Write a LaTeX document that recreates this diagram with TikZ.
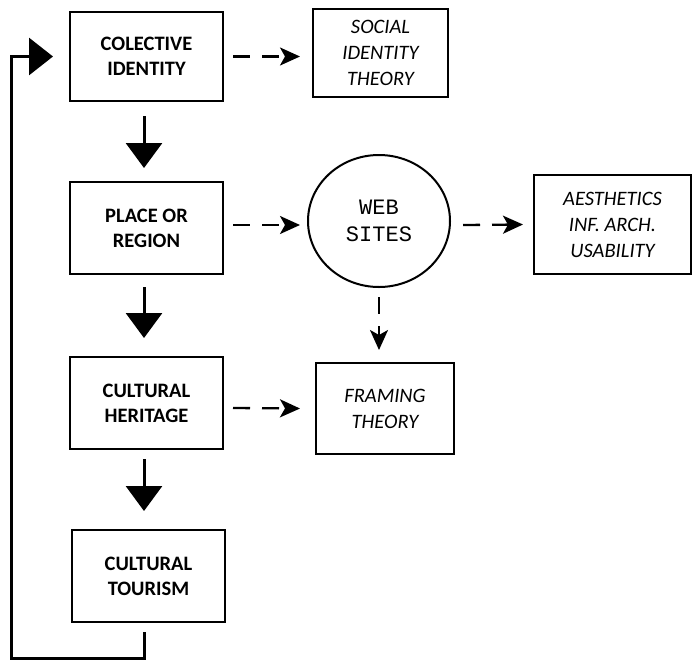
\documentclass[tikz,border=0pt]{standalone}
\usepackage{fontspec}
\setmainfont{Carlito}
\newfontfamily\monofont{Liberation Mono}
\usetikzlibrary{arrows.meta,shapes.geometric}
\begin{document}
\begin{tikzpicture}[x=1pt,y=-1pt,
 mainbox/.style={draw,line width=2.8pt,outer sep=0pt,minimum width=153pt,minimum height=90pt,align=center,font=\fontsize{20.5}{25}\selectfont\bfseries,inner sep=0pt},
 sidebox/.style={draw,line width=2.5pt,outer sep=0pt,align=center,font=\fontsize{20.5}{26}\selectfont\itshape,inner sep=0pt},
 solidarrow/.style={line width=3pt,-{Triangle[length=25pt,width=36pt]}},
 dasharrow/.style={line width=2.3pt,dash pattern=on 17pt off 12pt,-{Stealth[length=20pt,width=18pt,inset=5pt]}}]
\useasboundingbox (0,0) rectangle (693,659);
\node[mainbox,minimum height=89pt] (ci) at (146.5,56.5) {COLECTIVE\\IDENTITY};
\node[sidebox,minimum width=135pt,minimum height=88pt] (sit) at (380.5,53) {SOCIAL\\IDENTITY\\THEORY};
\node[mainbox,minimum height=92pt] (por) at (146.5,228) {PLACE OR\\REGION};
\node[draw,ellipse,line width=2pt,outer sep=0pt,minimum width=142pt,minimum height=132pt,inner sep=0pt,align=center,font=\monofont\fontsize{22}{27}\selectfont] (web) at (379,221) {WEB\\SITES};
\node[sidebox,minimum width=157pt,minimum height=99pt] (aes) at (612.5,224.5) {AESTHETICS\\INF. ARCH.\\USABILITY};
\node[mainbox,minimum height=92pt] (ch) at (146.5,403) {CULTURAL\\HERITAGE};
\node[sidebox,minimum width=138pt,minimum height=91pt] (ft) at (385,408.5) {FRAMING\\THEORY};
\node[mainbox,minimum height=92pt] (ct) at (148.5,576) {CULTURAL\\TOURISM};
% solid arrows
\draw[solidarrow] ([xshift=-2.5pt,yshift=-15pt]ci.south) -- ([xshift=-2.5pt,yshift=14pt]por.north);
\draw[solidarrow] ([xshift=-2.5pt,yshift=-13pt]por.south) -- ([xshift=-2.5pt,yshift=19pt]ch.north);
\draw[solidarrow] ([xshift=-2.5pt,yshift=-10pt]ch.south) -- ([xshift=-4.5pt,yshift=19pt]ct.north);
% loop back
\draw[line width=3pt,-{Triangle[length=24pt,width=37pt]}] ([xshift=-4.5pt,yshift=-10pt]ct.south) -- ++(0,26) -- ++(-133,0) |- ([xshift=-17pt]ci.west);
% dashed arrows
\draw[dasharrow] ([xshift=10pt]ci.east) -- ([xshift=-13pt]sit.west |- ci.east);
\draw[dasharrow] ([xshift=10pt,yshift=3pt]por.east) -- ([xshift=-8pt,yshift=-4pt]web.west);
\draw[dasharrow] ([xshift=13pt,yshift=-4pt]web.east) -- ([xshift=-11pt]aes.west);
\draw[dasharrow] ([yshift=-10pt]web.south) -- ([xshift=-6pt,yshift=13pt]ft.north);
\draw[dasharrow] ([xshift=10pt,yshift=-5pt]ch.east) -- ([xshift=-16pt]ft.west);
\end{tikzpicture}
\end{document}
